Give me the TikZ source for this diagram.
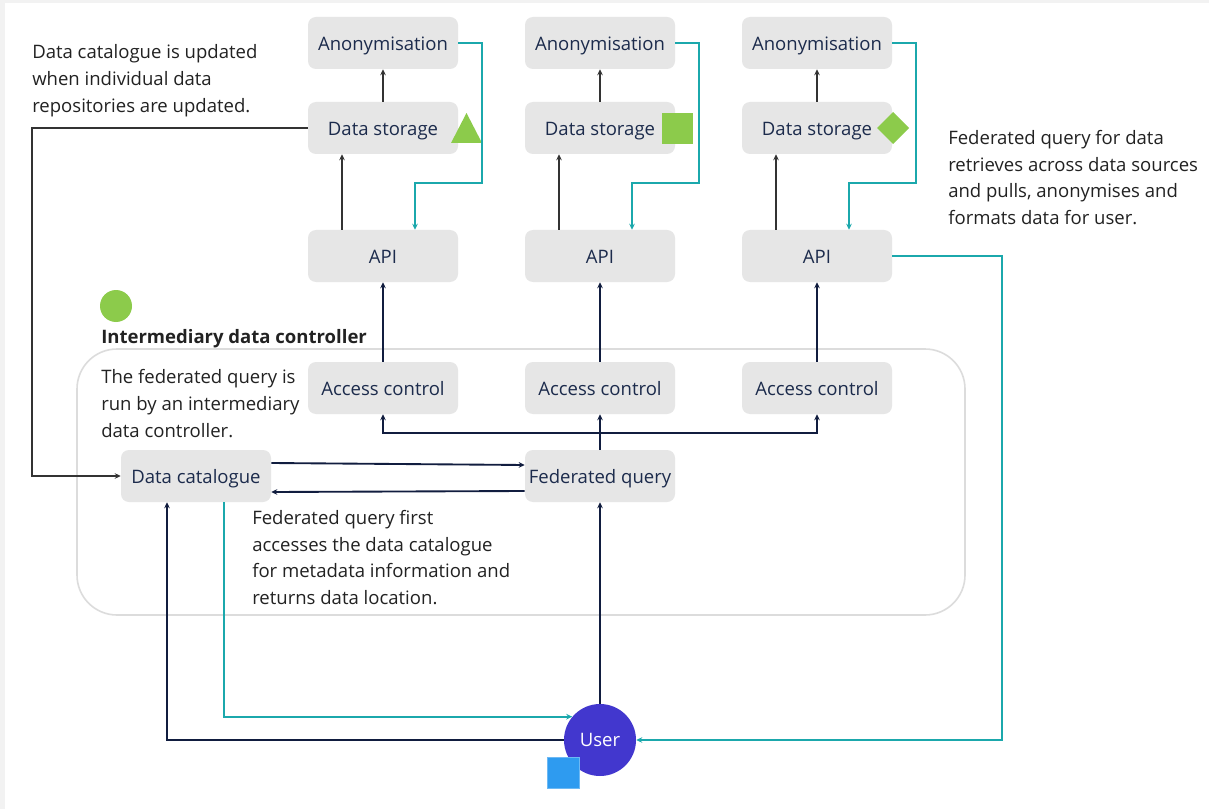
\documentclass[tikz,border=0pt]{standalone}
\usepackage{fontspec}
\setmainfont{Open Sans}
\usetikzlibrary{arrows.meta,calc}

\definecolor{boxfill}{HTML}{E6E6E6}
\definecolor{ink}{HTML}{1C2B4C}
\definecolor{notetext}{HTML}{222222}
\definecolor{navyline}{HTML}{111D3F}
\definecolor{greyline}{HTML}{333333}
\definecolor{tealline}{HTML}{1BA8AC}
\definecolor{leaf}{HTML}{8CCB4B}
\definecolor{userviolet}{HTML}{4237CE}
\definecolor{sky}{HTML}{2E9BF0}
\definecolor{framegrey}{HTML}{DCDCDC}
\definecolor{stripgrey}{HTML}{F2F2F2}

\tikzset{
  box/.style={rectangle, rounded corners=6pt, fill=boxfill, text=ink,
    minimum width=112.5pt, minimum height=39pt, inner sep=0pt,
    text height=11.2pt, text depth=0pt},
  note/.style={anchor=north west, align=left, inner sep=0pt, text=notetext},
  navyarrow/.style={draw=navyline, line width=1.4pt, -{Stealth[length=4.5pt,width=4.2pt]}},
  greyarrow/.style={draw=greyline, line width=1.4pt, -{Stealth[length=4.5pt,width=4.2pt]}},
  tealarrow/.style={draw=tealline, line width=1.4pt, -{Stealth[length=4.5pt,width=4.2pt]}},
}

\begin{document}
\begin{tikzpicture}[x=0.75pt, y=-0.75pt, font=\fontsize{13.9}{20}\selectfont]
  % canvas and thin edge strips
  \fill[white] (0,0) rectangle (1209,809);
  \useasboundingbox (0,0) rectangle (1209,809);
  \fill[stripgrey] (0,0) rectangle (1209,3);
  \fill[stripgrey] (0,0) rectangle (5,809);

  % intermediary data controller region
  \draw[framegrey, line width=1.2pt, rounded corners=30pt] (77,349) rectangle (965,615);
  \node[circle, fill=leaf, minimum size=24pt, inner sep=0pt] (idcdot) at (116,306) {};
  \node[note, font=\fontsize{13.9}{20}\selectfont\bfseries] (idclabel) at (101,329.5) {Intermediary data controller};

  % the three data sources
  \foreach \c/\x in {1/383, 2/600, 3/817} {
    \node[box] (anon\c) at (\x,43)  {Anonymisation};
    \node[box] (ds\c)   at (\x,128) {Data storage};
    \node[box] (api\c)  at (\x,256) {API};
    \node[box] (ac\c)   at (\x,388) {Access control};
  }

  \node[box] (cat) at (196,476) {Data catalogue};
  \node[box] (fq)  at (600,476) {Federated query};
  \node[circle, fill=userviolet, text=white, minimum size=54pt, inner sep=0pt] (user) at (600,740) {User};

  % source markers
  \fill[leaf] (451,143) -- (482,143) -- (466.5,113) -- cycle;
  \fill[leaf] (662,113) rectangle (693,144);
  \fill[leaf] (877,128) -- (893,112) -- (909,128) -- (893,144) -- cycle;

  % annotations
  \node[note] (n1) at (32,44.5) {Data catalogue is updated\\when individual data\\repositories are updated.};
  \node[note] (n2) at (948,130) {Federated query for data\\retrieves across data sources\\and pulls, anonymises and\\formats data for user.};
  \node[note] (n3) at (101,369.5) {The federated query is\\run by an intermediary\\data controller.};
  \node[note] (n4) at (252,510) {Federated query first\\accesses the data catalogue\\for metadata information and\\returns data location.};

  % flows inside each data source
  \foreach \c in {1,2,3} {
    \draw[greyarrow] (ds\c) -- (anon\c);
    \draw[greyarrow] ([shift={(-41,0)}]api\c.north) -- ([shift={(-41,0)}]ds\c.south);
    \draw[tealarrow] (anon\c.east) -- ++(24,0) -- ++(0,140) -| ([shift={(32,0)}]api\c.north);
    \draw[navyarrow] (ac\c) -- (api\c);
  }

  % federated query fans out to the access controls
  \draw[navyarrow] (fq.north) -- (ac2.south);
  \draw[navyarrow] (fq.north) -- ++(0,-17) -| (ac1.south);
  \draw[navyarrow] (fq.north) -- ++(0,-17) -| (ac3.south);

  % catalogue lookups
  \draw[navyarrow] ([shift={(0,-13)}]cat.east) -- ([shift={(0,-11)}]fq.west);
  \draw[navyarrow] ([shift={(0,15)}]fq.west) -- ([shift={(0,16)}]cat.east);
  \draw[greyarrow] (ds1.west) -- ++(-276,0) |- (cat.west);

  % user interactions
  \draw[navyarrow] (user.west) -| ([shift={(-29,0)}]cat.south);
  \draw[tealarrow] ([shift={(28,0)}]cat.south) |- (user.140);
  \draw[navyarrow] (user) -- (fq);
  \draw[tealarrow] (api3.east) -- ++(110,0) |- (user.east);

  % marker drawn over the user node
  \draw[fill=sky, draw=sky!70!white, line width=0.6pt] (547,757) rectangle (579,788);
\end{tikzpicture}
\end{document}
